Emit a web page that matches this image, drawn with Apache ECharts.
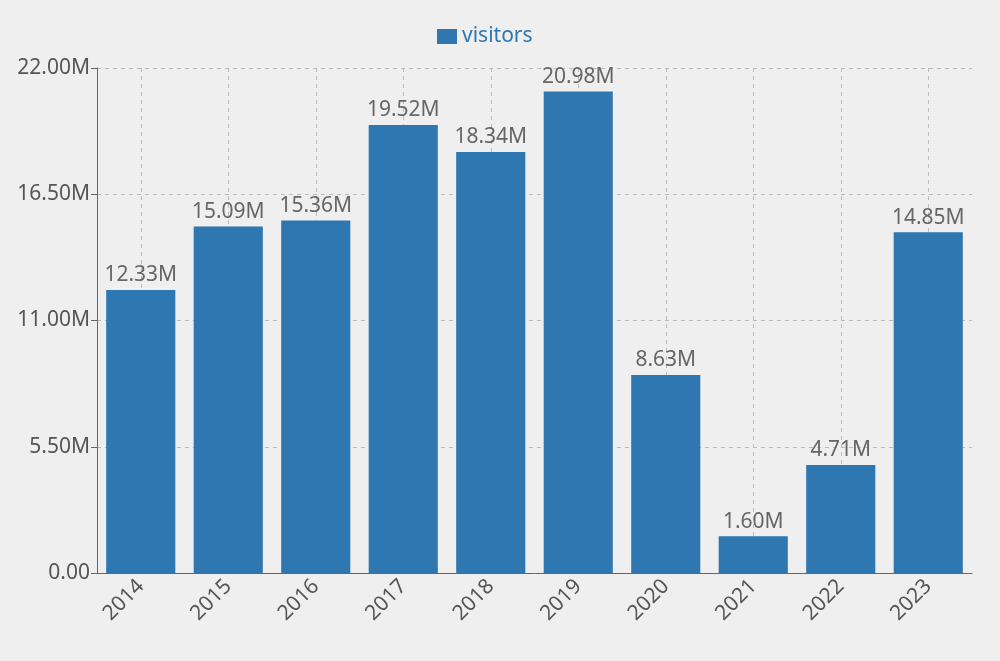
<!DOCTYPE html>
<html>
<head>
<meta charset="utf-8">
<script src="https://cdn.jsdelivr.net/npm/echarts@6/dist/echarts.min.js"></script>
<style>html,body{margin:0;padding:0;background:#efefef;}#c{width:1000px;height:661px;}</style>
</head>
<body>
<div id="c"></div>
<script>
const categories = ['2014','2015','2016','2017','2018','2019','2020','2021','2022','2023'];
const visitors = [12330000, 15090000, 15360000, 19520000, 18340000, 20980000, 8630000, 1600000, 4710000, 14850000];
const seriesName = 'visitors';

const fmt = v => v === 0 ? '0.00' : (v / 1e6).toFixed(2) + 'M';
const chart = echarts.init(document.getElementById('c'));
chart.setOption({
  backgroundColor: '#efefef',
  textStyle: { fontFamily: 'Noto Sans' },
  legend: {
    top: 21, left: 432,
    itemWidth: 20, itemHeight: 15,
    itemGap: 10,
    icon: 'rect',
    textStyle: { color: '#2e77b1', fontSize: 21 }
  },
  grid: { left: 97, right: 28, top: 68, bottom: 88 },
  xAxis: {
    type: 'category',
    data: categories,
    axisLine: { lineStyle: { color: '#666' } },
    axisTick: { alignWithLabel: true, length: 6, lineStyle: { color: '#666' } },
    axisLabel: { rotate: 45, fontSize: 21, color: '#555', margin: 10 },
    splitLine: { show: true, alignWithLabel: true, lineStyle: { type: [4, 4], color: '#bbbbbb' } }
  },
  yAxis: {
    type: 'value',
    min: 0, max: 22000000, interval: 5500000,
    axisLine: { show: true, lineStyle: { color: '#666' } },
    axisTick: { show: true, length: 6, lineStyle: { color: '#666' } },
    axisLabel: { fontSize: 21, color: '#555', margin: 7, formatter: fmt },
    splitLine: { show: true, lineStyle: { type: [4, 4], color: '#bbbbbb' } }
  },
  series: [{
    name: seriesName,
    type: 'bar',
    data: visitors,
    itemStyle: { color: '#2e77b1' },
    barCategoryGap: '21%',
    label: { show: true, position: 'top', distance: 4, fontSize: 21, color: '#666', formatter: p => fmt(p.value) }
  }]
});
</script>
</body>
</html>
